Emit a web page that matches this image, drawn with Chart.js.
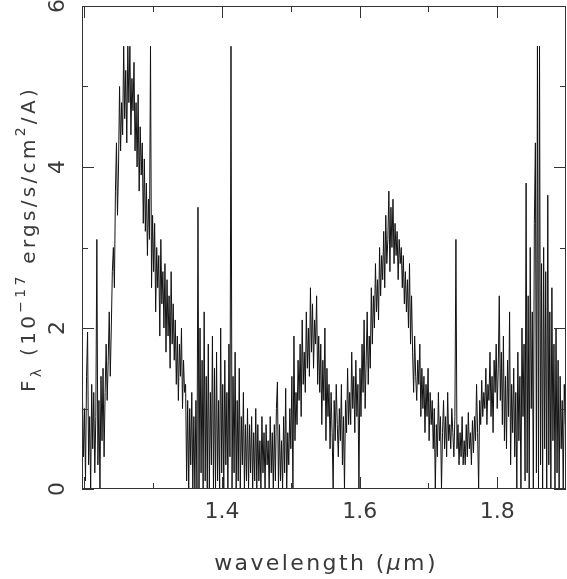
<!DOCTYPE html>
<html>
<head>
<meta charset="utf-8">
<script src="https://cdn.jsdelivr.net/npm/chart.js@4"></script>
<style>
html,body{margin:0;padding:0;background:#fff;}
#wrap{width:567px;height:579px;position:relative;}
</style>
</head>
<body>
<div id="wrap"><canvas id="c" width="567" height="579"></canvas></div>
<script>
// wavelength grid (micron)
const wavelengths = [
1.1970,1.1985,1.2000,1.2015,1.2030,1.2045,1.2060,1.2075,1.2090,1.2105,
1.2120,1.2135,1.2150,1.2165,1.2180,1.2195,1.2210,1.2225,1.2240,1.2255,
1.2270,1.2285,1.2300,1.2315,1.2330,1.2345,1.2360,1.2375,1.2390,1.2405,
1.2420,1.2435,1.2450,1.2465,1.2480,1.2495,1.2510,1.2525,1.2540,1.2555,
1.2570,1.2585,1.2600,1.2615,1.2630,1.2645,1.2660,1.2675,1.2690,1.2705,
1.2720,1.2735,1.2750,1.2765,1.2780,1.2795,1.2810,1.2825,1.2840,1.2855,
1.2870,1.2885,1.2900,1.2915,1.2930,1.2945,1.2960,1.2975,1.2990,1.3005,
1.3020,1.3035,1.3050,1.3065,1.3080,1.3095,1.3110,1.3125,1.3140,1.3155,
1.3170,1.3185,1.3200,1.3215,1.3230,1.3245,1.3260,1.3275,1.3290,1.3305,
1.3320,1.3335,1.3350,1.3365,1.3380,1.3395,1.3410,1.3425,1.3440,1.3455,
1.3470,1.3485,1.3500,1.3515,1.3530,1.3545,1.3560,1.3575,1.3590,1.3605,
1.3620,1.3635,1.3650,1.3665,1.3680,1.3695,1.3710,1.3725,1.3740,1.3755,
1.3770,1.3785,1.3800,1.3815,1.3830,1.3845,1.3860,1.3875,1.3890,1.3905,
1.3920,1.3935,1.3950,1.3965,1.3980,1.3995,1.4010,1.4025,1.4040,1.4055,
1.4070,1.4085,1.4100,1.4115,1.4130,1.4145,1.4160,1.4175,1.4190,1.4205,
1.4220,1.4235,1.4250,1.4265,1.4280,1.4295,1.4310,1.4325,1.4340,1.4355,
1.4370,1.4385,1.4400,1.4415,1.4430,1.4445,1.4460,1.4475,1.4490,1.4505,
1.4520,1.4535,1.4550,1.4565,1.4580,1.4595,1.4610,1.4625,1.4640,1.4655,
1.4670,1.4685,1.4700,1.4715,1.4730,1.4745,1.4760,1.4775,1.4790,1.4805,
1.4820,1.4835,1.4850,1.4865,1.4880,1.4895,1.4910,1.4925,1.4940,1.4955,
1.4970,1.4985,1.5000,1.5015,1.5030,1.5045,1.5060,1.5075,1.5090,1.5105,
1.5120,1.5135,1.5150,1.5165,1.5180,1.5195,1.5210,1.5225,1.5240,1.5255,
1.5270,1.5285,1.5300,1.5315,1.5330,1.5345,1.5360,1.5375,1.5390,1.5405,
1.5420,1.5435,1.5450,1.5465,1.5480,1.5495,1.5510,1.5525,1.5540,1.5555,
1.5570,1.5585,1.5600,1.5615,1.5630,1.5645,1.5660,1.5675,1.5690,1.5705,
1.5720,1.5735,1.5750,1.5765,1.5780,1.5795,1.5810,1.5825,1.5840,1.5855,
1.5870,1.5885,1.5900,1.5915,1.5930,1.5945,1.5960,1.5975,1.5990,1.6005,
1.6020,1.6035,1.6050,1.6065,1.6080,1.6095,1.6110,1.6125,1.6140,1.6155,
1.6170,1.6185,1.6200,1.6215,1.6230,1.6245,1.6260,1.6275,1.6290,1.6305,
1.6320,1.6335,1.6350,1.6365,1.6380,1.6395,1.6410,1.6425,1.6440,1.6455,
1.6470,1.6485,1.6500,1.6515,1.6530,1.6545,1.6560,1.6575,1.6590,1.6605,
1.6620,1.6635,1.6650,1.6665,1.6680,1.6695,1.6710,1.6725,1.6740,1.6755,
1.6770,1.6785,1.6800,1.6815,1.6830,1.6845,1.6860,1.6875,1.6890,1.6905,
1.6920,1.6935,1.6950,1.6965,1.6980,1.6995,1.7010,1.7025,1.7040,1.7055,
1.7070,1.7085,1.7100,1.7115,1.7130,1.7145,1.7160,1.7175,1.7190,1.7205,
1.7220,1.7235,1.7250,1.7265,1.7280,1.7295,1.7310,1.7325,1.7340,1.7355,
1.7370,1.7385,1.7400,1.7415,1.7430,1.7445,1.7460,1.7475,1.7490,1.7505,
1.7520,1.7535,1.7550,1.7565,1.7580,1.7595,1.7610,1.7625,1.7640,1.7655,
1.7670,1.7685,1.7700,1.7715,1.7730,1.7745,1.7760,1.7775,1.7790,1.7805,
1.7820,1.7835,1.7850,1.7865,1.7880,1.7895,1.7910,1.7925,1.7940,1.7955,
1.7970,1.7985,1.8000,1.8015,1.8030,1.8045,1.8060,1.8075,1.8090,1.8105,
1.8120,1.8135,1.8150,1.8165,1.8180,1.8195,1.8210,1.8225,1.8240,1.8255,
1.8270,1.8285,1.8300,1.8315,1.8330,1.8345,1.8360,1.8375,1.8390,1.8405,
1.8420,1.8435,1.8450,1.8465,1.8480,1.8495,1.8510,1.8525,1.8540,1.8555,
1.8570,1.8585,1.8600,1.8615,1.8630,1.8645,1.8660,1.8675,1.8690,1.8705,
1.8720,1.8735,1.8750,1.8765,1.8780,1.8795,1.8810,1.8825,1.8840,1.8855,
1.8870,1.8885,1.8900,1.8915,1.8930,1.8945,1.8960,1.8975,1.8990
];
// flux (1e-17 ergs/s/cm^2/A), clipped at 0 and 5.5 as in the original plot
const flux = [
1.2,0.4,1.0,0.1,1.4,1.95,0.3,0.9,0.0,1.3,
0.5,1.2,0.2,0.9,3.1,0.3,1.1,0.0,1.4,0.6,
1.5,0.4,1.2,1.8,1.1,1.6,2.2,1.4,2.0,2.7,
3.0,2.5,3.7,4.3,3.4,4.0,5.0,4.2,4.8,4.4,
5.5,4.6,5.2,4.3,5.5,4.8,5.5,4.4,5.1,4.7,
5.3,4.2,4.8,4.0,4.9,3.7,4.5,3.9,4.3,3.3,
4.1,3.2,3.8,2.9,3.6,3.1,5.5,2.5,3.4,2.7,
3.3,2.2,3.0,2.5,2.9,1.9,3.1,2.3,2.7,2.0,
2.8,1.7,2.6,1.9,2.4,1.5,2.7,1.8,2.3,1.6,
2.1,1.3,1.9,1.1,1.8,1.4,2.0,1.0,1.6,1.2,
1.3,0.1,1.1,0.0,1.0,0.3,1.2,0.0,0.9,0.0,
1.1,0.0,3.5,0.0,2.0,0.2,1.6,0.0,2.2,0.1,
1.4,0.0,1.8,0.0,1.2,0.3,1.9,0.0,1.5,0.0,
1.7,0.1,1.1,0.0,2.0,0.2,1.3,0.0,1.6,0.3,
1.2,0.0,1.8,0.4,5.5,0.0,1.4,0.2,1.7,0.0,
1.1,0.1,1.5,0.0,0.9,0.3,1.2,0.0,0.8,0.1,
1.0,0.0,0.8,0.2,0.9,0.0,0.7,0.1,1.0,0.0,
0.8,0.1,0.6,0.0,0.9,0.2,0.7,0.0,0.8,0.3,
0.6,0.0,0.9,0.2,0.7,0.0,0.8,0.1,1.0,1.33,
0.0,0.8,0.1,0.6,0.0,0.9,0.2,1.25,0.0,0.7,
0.3,1.0,0.5,1.4,0.0,1.9,0.6,1.2,0.8,1.6,
1.1,1.8,0.9,2.1,1.3,1.7,1.2,2.2,1.5,2.0,
1.4,2.5,1.7,2.3,1.5,2.1,1.8,2.4,1.3,1.9,
1.2,1.8,0.8,1.6,1.1,2.0,0.6,1.5,0.9,1.3,
0.5,1.2,0.7,0.0,1.1,0.6,1.3,0.8,0.4,1.0,
0.6,1.3,0.3,0.9,0.0,1.1,0.7,1.5,0.8,1.2,
0.8,1.7,1.0,1.4,0.7,1.6,0.9,1.3,0.0,1.5,
0.9,1.8,1.2,2.1,1.0,1.6,2.2,1.3,1.9,1.5,
2.5,1.8,2.4,2.0,2.8,2.2,2.6,2.1,3.0,2.4,
2.9,2.6,3.2,2.5,3.4,2.8,3.1,3.7,2.7,3.5,
3.0,3.6,2.8,3.3,2.9,3.2,2.6,3.1,2.8,3.0,
2.5,2.9,2.3,2.7,2.2,2.6,2.0,2.8,1.8,2.4,
1.7,1.2,1.9,1.4,1.1,1.6,1.3,1.8,0.9,1.5,
1.0,1.4,0.7,1.3,0.9,1.5,0.6,1.2,0.8,1.1,
0.5,1.0,0.0,0.8,0.4,1.2,0.6,0.9,0.0,0.7,
1.1,0.5,0.9,0.4,1.2,0.6,0.8,0.5,1.0,0.7,
0.4,0.9,3.1,0.5,0.8,0.3,0.7,0.4,0.9,0.3,
0.6,0.3,0.8,0.4,0.95,0.5,0.7,0.3,0.85,0.45,
0.9,0.6,1.3,0.7,0.0,1.1,0.8,1.35,0.9,1.2,
1.0,1.5,0.8,1.3,1.1,1.7,0.9,1.4,0.7,1.6,
1.2,1.8,1.0,1.5,2.4,1.1,1.7,0.8,1.9,0.6,
1.4,0.5,1.6,0.9,2.2,0.3,1.3,0.7,1.5,0.4,
1.2,0.0,1.7,0.6,1.4,0.0,2.0,0.9,1.8,0.1,
3.8,0.2,2.4,0.0,3.0,1.0,2.2,0.0,3.3,4.3,
0.2,5.5,0.0,5.5,0.3,2.8,0.0,3.0,0.5,2.7,
0.0,3.65,0.3,2.2,0.0,2.5,0.6,1.8,0.0,2.0,
0.2,1.6,0.0,1.4,0.5,1.1,0.0,1.3,0.8
];
const xMajorTicks = [1.2, 1.4, 1.6, 1.8];
const xMinorTicks = [1.3, 1.5, 1.7];
const xTickLabels = [1.4, 1.6, 1.8];
const yMajorTicks = [0, 2, 4, 6];
const yMinorTicks = [1, 3, 5];
const yTickLabels = [0, 2, 4, 6];
const xRange = [1.1964, 1.9];
const yRange = [0, 6];

const FONT = '"DejaVu Sans", "Liberation Sans", sans-serif';
const TEXT_COLOR = '#3a3a3a';
const AXIS_COLOR = '#333';

const frame = {
  id: 'frame',
  afterDatasetsDraw(chart) {
    const ctx = chart.ctx, a = chart.chartArea;
    const xs = chart.scales.x, ys = chart.scales.y;
    ctx.save();
    ctx.strokeStyle = AXIS_COLOR;
    ctx.lineWidth = 1;
    ctx.strokeRect(a.left + 0.5, a.top + 0.5, a.right - a.left - 1, a.bottom - a.top - 1);
    ctx.beginPath();
    const xt = (v, len) => {
      const p = Math.round(xs.getPixelForValue(v)) + 0.5;
      ctx.moveTo(p, a.bottom); ctx.lineTo(p, a.bottom - len);
      ctx.moveTo(p, a.top); ctx.lineTo(p, a.top + len);
    };
    const yt = (v, len) => {
      const p = Math.round(ys.getPixelForValue(v)) + 0.5;
      ctx.moveTo(a.left, p); ctx.lineTo(a.left + len, p);
      ctx.moveTo(a.right, p); ctx.lineTo(a.right - len, p);
    };
    xMajorTicks.forEach(v => xt(v, 12));
    xMinorTicks.forEach(v => xt(v, 6));
    yMajorTicks.forEach(v => yt(v, 12));
    yMinorTicks.forEach(v => yt(v, 6));
    ctx.stroke();
    ctx.restore();
  },
  afterDraw(chart) {
    const ctx = chart.ctx, a = chart.chartArea;
    ctx.save();
    ctx.fillStyle = TEXT_COLOR;
    ctx.textBaseline = 'alphabetic';
    ctx.textAlign = 'left';
    // x title
    const parts = [
      {t: 'wavelength (', f: '22px ' + FONT},
      {t: 'μ', f: 'italic 22px ' + FONT},
      {t: 'm)', f: '22px ' + FONT}
    ];
    ctx.letterSpacing = '2.4px';
    let w = 0;
    parts.forEach(p => { ctx.font = p.f; p.w = ctx.measureText(p.t).width; w += p.w; });
    let x = (a.left + a.right) / 2 - w / 2 + 2;
    parts.forEach(p => { ctx.font = p.f; ctx.fillText(p.t, x, 570); x += p.w; });
    // y title (rotated)
    ctx.translate(35, 392);
    ctx.rotate(-Math.PI / 2);
    const big = '20px ' + FONT, small = '14px ' + FONT;
    const yp = [
      {t: 'F', f: big, dy: 0},
      {t: 'λ', f: small, dy: 6},
      {t: ' (10', f: big, dy: 0},
      {t: '−17', f: small, dy: -10},
      {t: ' ergs/s/cm', f: big, dy: 0},
      {t: '2', f: small, dy: -10},
      {t: '/A)', f: big, dy: 0}
    ];
    ctx.letterSpacing = '3.3px';
    let yx = 0;
    yp.forEach(p => { ctx.font = p.f; ctx.fillText(p.t, yx, p.dy); yx += ctx.measureText(p.t).width; });
    ctx.restore();
  }
};

new Chart(document.getElementById('c'), {
  type: 'line',
  data: {
    datasets: [{
      data: wavelengths.map((w, i) => ({x: w, y: flux[i]})),
      borderColor: '#111',
      borderWidth: 1,
      pointRadius: 0,
      tension: 0,
      fill: false
    }]
  },
  options: {
    responsive: false,
    animation: false,
    devicePixelRatio: 1,
    layout: {padding: {top: 6, right: 1, left: 0, bottom: 0}},
    plugins: {legend: {display: false}, tooltip: {enabled: false}},
    scales: {
      x: {
        type: 'linear', min: xRange[0], max: xRange[1],
        grid: {display: false, drawTicks: false},
        border: {display: false},
        afterBuildTicks: s => { s.ticks = xTickLabels.map(v => ({value: v})); },
        afterFit: s => { s.height = 90; s.paddingLeft = 0; s.paddingRight = 0; },
        ticks: {
          padding: 10, color: TEXT_COLOR, maxRotation: 0, minRotation: 0,
          font: {family: FONT, size: 22},
          callback: v => v.toFixed(1)
        }
      },
      y: {
        type: 'linear', min: yRange[0], max: yRange[1],
        grid: {display: false, drawTicks: false},
        border: {display: false},
        afterBuildTicks: s => { s.ticks = yTickLabels.map(v => ({value: v})); },
        afterFit: s => { s.width = 82; s.paddingTop = 0; s.paddingBottom = 0; },
        ticks: {
          padding: 17, color: TEXT_COLOR, minRotation: 90, maxRotation: 90,
          crossAlign: 'center',
          font: {family: FONT, size: 22},
          callback: v => String(v)
        }
      }
    }
  },
  plugins: [frame]
});
</script>
</body>
</html>
